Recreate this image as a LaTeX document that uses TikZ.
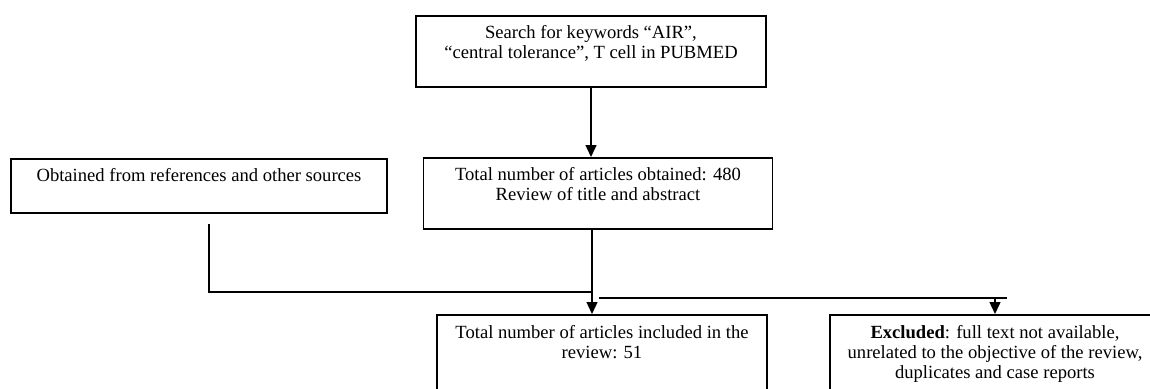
\documentclass[tikz,border=0pt]{standalone}
\usepackage{fontspec}
\setmainfont{Liberation Serif}
\usetikzlibrary{arrows.meta}

\tikzset{
  box/.style={draw, line width=1.8pt, anchor=north, align=center, inner xsep=0pt, inner ysep=10pt,
    font=\fontsize{18.6}{20}\selectfont},
  link/.style={line width=1.4pt},
  arr/.style={link, -{Triangle[width=11pt,length=12pt]}}
}

\begin{document}
\begin{tikzpicture}[x=1pt,y=-1pt]

\useasboundingbox (0,0) rectangle (1150,388);

\node[box, minimum width=350pt, text depth=18.3pt] (search) at (591,15) {Search for keywords “AIR”,\\“central tolerance”, T cell in PUBMED};

\node[box, minimum width=376pt, text depth=21.3pt] (refs) at (199,158) {Obtained from references and other sources};
\node[box, minimum width=349pt, text depth=18.3pt] (obtained) at (598,157) {Total number of articles obtained: 480\\Review of title and abstract};

\node[box, minimum width=330pt, text depth=30pt] (included) at (602,314) {Total number of articles included in the\\review: 51};
\node[box, minimum width=330pt, text depth=20pt] (excluded) at (995,314) {\textbf{Excluded}: full text not available,\\unrelated to the objective of the review,\\duplicates and case reports};

\coordinate (merge) at (592,292);
\coordinate (split) at (599,298);
\coordinate (splitend) at (1007,298);

\draw[arr] (search.south) -- (search.south |- obtained.north);
\draw[link] ([xshift=10pt,yshift=-10pt]refs.south) |- (merge);
\draw[arr] (obtained.south -| merge) -- (merge |- included.north);
\draw[link] (split) -- (splitend);
\draw[arr] (split -| excluded.north) -- (excluded.north);

\end{tikzpicture}
\end{document}
